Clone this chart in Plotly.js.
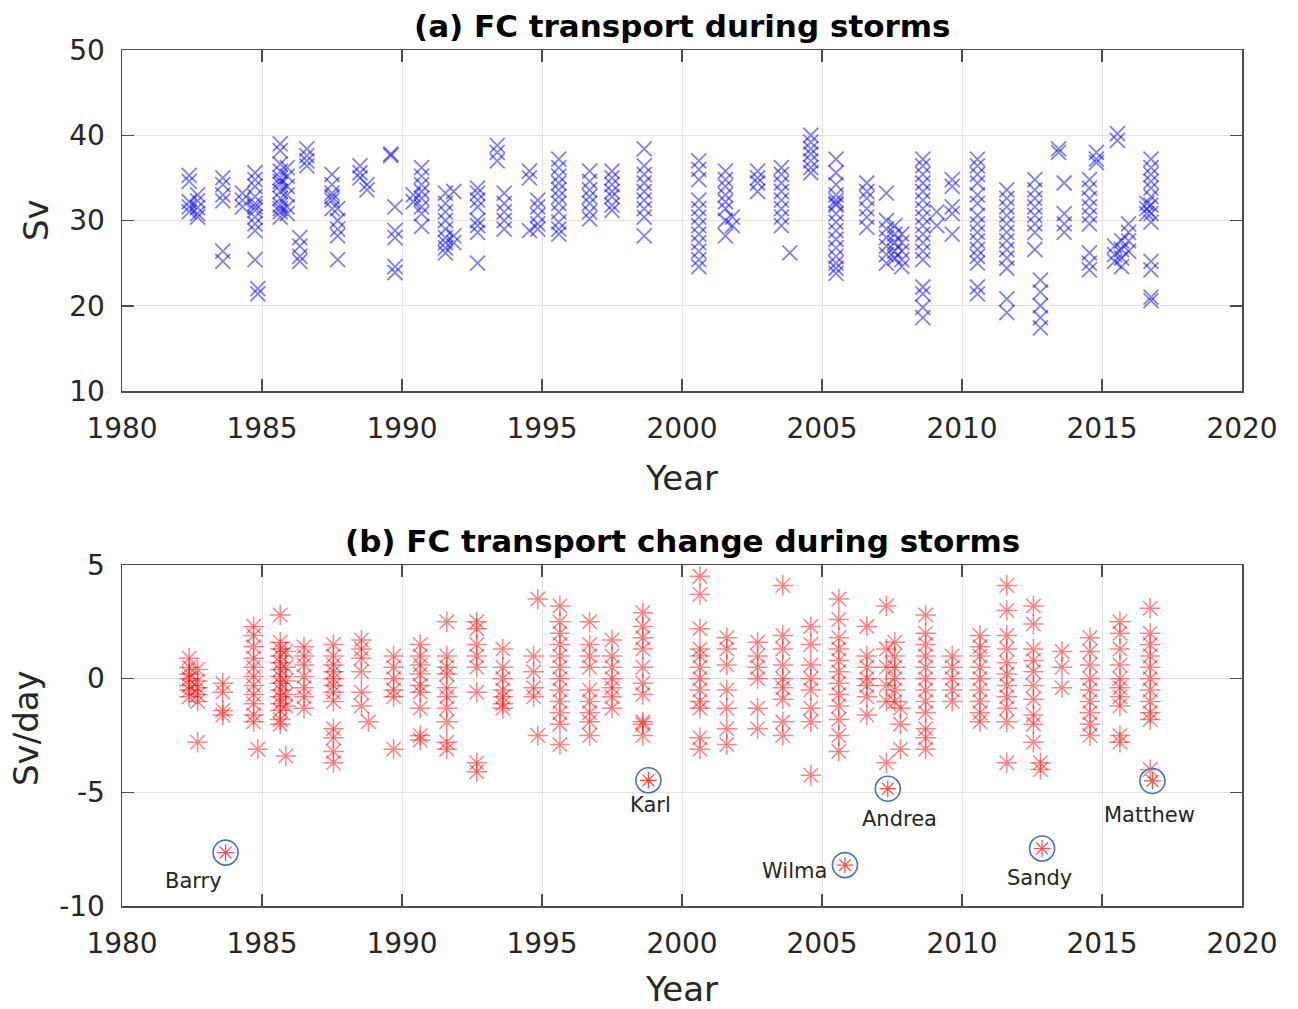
<!DOCTYPE html>
<html>
<head>
<meta charset="utf-8">
<script src="https://cdn.plot.ly/plotly-3.0.1.min.js"></script>
<style>html,body{margin:0;padding:0;background:#fff;}#chart{width:1298px;height:1009px;}</style>
</head>
<body>
<div id="chart"></div>
<script>
// ---------- Panel (a): FC transport during storms (Sv) ----------
const stormYearA = [1982.4, 1982.7, 1983.6, 1984.3, 1984.75, 1984.85, 1985.65, 1985.9, 1986.35, 1986.6,
  1987.5, 1987.7, 1988.5, 1988.75, 1989.6, 1989.75, 1990.4, 1990.7, 1991.55, 1991.85,
  1992.7, 1993.4, 1993.65, 1994.55, 1994.85, 1995.6, 1996.7, 1997.5, 1998.65, 2000.6,
  2001.55, 2001.8, 2002.7, 2003.55, 2003.85, 2004.6, 2005.5, 2006.6, 2007.3, 2007.6,
  2007.85, 2008.6, 2009.1, 2009.65, 2010.55, 2011.6, 2012.6, 2012.8, 2013.45, 2013.65,
  2014.55, 2014.8, 2015.55, 2015.45, 2015.7, 2015.95, 2016.6, 2016.75];
const transportSv = [
  [35.3, 34.6, 32.2, 31.6, 31.0],
  [33.0, 32.3, 31.5, 30.8, 30.4],
  [35.0, 34.2, 33.0, 32.3, 26.4, 25.2],
  [33.2, 32.4, 31.6],
  [35.6, 34.8, 34.0, 32.8, 32.0, 31.6, 31.2, 30.4, 29.6, 28.8, 25.4],
  [22.0, 21.4],
  [39.0, 38.2, 36.6, 35.8, 35.0, 34.6, 34.2, 33.4, 32.6, 31.8, 31.4, 31.0, 30.4],
  [36.2, 35.2, 34.0, 33.0, 31.6, 30.8],
  [28.0, 27.0, 25.8, 25.2],
  [38.4, 37.6, 37.0, 36.4],
  [35.4, 34.2, 33.2, 32.8, 32.4, 31.4],
  [31.4, 30.0, 29.0, 28.2, 25.4],
  [36.4, 35.6, 35.0],
  [34.2, 33.6],
  [37.8, 37.6],
  [31.6, 28.8, 28.0, 24.6, 23.9],
  [33.0, 32.2],
  [36.2, 35.2, 34.2, 33.4, 32.6, 31.6, 30.8, 29.3],
  [33.2, 32.0, 31.0, 30.0, 29.0, 28.0, 27.4, 26.8, 26.2],
  [33.4, 28.2, 27.4],
  [33.8, 33.2, 32.4, 31.6, 30.0, 29.4, 28.6, 25.0],
  [38.8, 38.0, 37.0],
  [33.2, 32.0, 31.0, 30.0, 29.0],
  [35.8, 35.0, 28.8],
  [32.4, 31.6, 30.6, 29.6, 29.0],
  [37.2, 36.2, 35.2, 34.4, 33.6, 32.8, 32.0, 31.0, 29.8, 29.0, 28.4],
  [35.8, 34.6, 33.6, 32.8, 32.0, 31.0, 30.2],
  [35.8, 35.0, 34.2, 33.4, 32.8, 31.8, 31.2],
  [38.4, 36.4, 35.4, 34.4, 33.4, 32.4, 31.4, 30.4, 28.2],
  [37.0, 36.0, 34.8, 32.4, 31.4, 30.4, 29.4, 28.4, 27.4, 26.4, 25.4, 24.6],
  [35.8, 34.8, 34.0, 33.0, 32.2, 31.4, 30.0, 28.2],
  [30.4, 29.4],
  [35.8, 35.0, 34.4, 33.4],
  [36.2, 35.4, 34.4, 33.4, 32.4, 31.4, 30.4, 29.4],
  [26.2],
  [40.0, 39.2, 38.4, 37.8, 37.0, 36.2, 35.6],
  [37.2, 35.6, 34.2, 33.0, 32.4, 32.0, 31.8, 30.8, 29.8, 28.8, 27.8, 26.8, 25.8, 25.0, 24.4, 23.8],
  [34.4, 33.4, 32.6, 31.4, 30.4, 29.2],
  [33.2, 30.0, 29.0, 28.0, 27.0, 26.0, 25.0],
  [29.4, 28.4, 27.4, 26.4, 25.6],
  [28.4, 27.4, 26.4, 25.4, 24.6],
  [37.2, 36.4, 35.4, 34.4, 33.4, 32.4, 31.4, 30.4, 29.4, 28.4, 27.4, 26.4, 25.4, 22.2, 21.4, 19.8, 18.6],
  [31.0, 29.4],
  [34.8, 34.0, 31.6, 30.8, 28.4],
  [37.2, 36.4, 35.4, 34.4, 33.0, 32.0, 30.6, 29.6, 28.6, 27.6, 26.6, 25.8, 25.0, 22.2, 21.4],
  [33.6, 32.6, 31.6, 30.6, 29.6, 28.6, 27.6, 26.6, 25.6, 24.4, 20.8, 19.2],
  [34.8, 33.6, 32.6, 31.6, 30.6, 29.6, 28.6, 26.6],
  [23.0, 21.6, 20.0, 18.6, 17.4],
  [38.4, 38.0],
  [34.4, 30.8, 29.6, 28.6],
  [34.8, 33.8, 32.6, 31.6, 30.6, 29.6, 26.2, 25.0, 24.2],
  [38.0, 37.2, 36.8],
  [40.2, 39.4],
  [27.0, 26.0, 25.2],
  [27.6, 26.6, 25.6, 24.6],
  [29.6, 28.6, 27.6, 26.4],
  [32.0, 31.4, 30.8],
  [37.2, 36.2, 35.4, 34.6, 33.8, 32.8, 31.8, 30.8, 29.8, 25.2, 24.2, 21.0, 20.6]
];

// ---------- Panel (b): FC transport change during storms (Sv/day) ----------
const stormYearB = [1982.4, 1982.7, 1983.6, 1984.7, 1984.85, 1985.65, 1985.85, 1986.5, 1987.55, 1988.55,
  1988.8, 1989.7, 1990.65, 1991.6, 1992.67, 1993.6, 1994.7, 1994.85, 1995.64, 1996.7,
  1997.5, 1998.6, 2000.64, 2001.6, 2002.7, 2003.6, 2004.6, 2005.6, 2006.6, 2007.3,
  2007.6, 2007.8, 2008.7, 2009.65, 2010.64, 2011.6, 2012.55, 2012.8, 2013.57, 2014.57,
  2015.64, 2016.72];
const changeSvDay = [
  [0.9, 0.5, 0.2, 0.0, -0.3, -0.5, -0.8],
  [0.4, -0.1, -0.4, -0.7, -1.0, -2.8],
  [-0.2, -0.6, -1.4, -1.6],
  [2.3, 1.9, 1.4, 0.9, 0.5, 0.1, -0.3, -0.7, -1.1, -1.6, -1.9],
  [-3.1],
  [2.8, 1.6, 1.3, 1.0, 0.7, 0.4, 0.1, -0.2, -0.5, -0.8, -1.1, -1.4, -1.8, -2.0],
  [1.2, 0.5, -0.1, -0.7, -1.2, -3.4],
  [1.4, 1.0, 0.6, 0.1, -0.4, -0.8, -1.3],
  [1.5, 1.0, 0.6, 0.3, 0.0, -0.3, -0.6, -1.0, -2.2, -2.6, -3.2, -3.7],
  [1.7, 1.3, 0.9, 0.3, -0.6, -1.2],
  [-1.9],
  [1.0, 0.5, 0.0, -0.5, -0.8, -3.1],
  [1.5, 1.0, 0.6, 0.2, -0.3, -0.6, -1.3, -2.5, -2.7],
  [2.5, 1.0, 0.5, 0.2, -0.4, -0.8, -1.3, -1.9, -2.8, -3.1],
  [2.5, 2.2, 1.5, 1.0, 0.5, -0.6, -3.7, -4.1],
  [1.3, 0.5, 0.0, -0.5, -0.8, -1.1, -1.3],
  [1.0, 0.3, -0.4, -0.8],
  [3.5, -2.5],
  [3.2, 2.5, 2.0, 1.5, 1.0, 0.5, 0.0, -0.5, -1.0, -1.5, -2.0, -2.9],
  [2.5, 1.5, 1.0, 0.5, -0.5, -1.0, -1.5, -1.9, -2.5],
  [1.7, 1.0, 0.5, 0.0, -0.4, -0.8, -1.3],
  [2.9, 2.3, 1.8, 1.3, 0.5, -0.2, -0.7, -1.9, -2.0, -2.5],
  [4.5, 3.7, 2.2, 1.3, 1.0, 0.5, 0.0, -0.5, -1.0, -1.3, -2.6, -3.1],
  [1.8, 1.3, 0.6, -0.5, -1.3, -2.2, -2.9],
  [1.6, 1.0, 0.5, 0.0, -1.3, -2.2],
  [4.1, 1.9, 1.3, 0.6, 0.0, -0.4, -0.9, -1.9, -2.5],
  [2.3, 1.5, 0.6, 0.0, -0.5, -1.3, -1.9, -4.25],
  [3.5, 2.6, 1.8, 1.3, 0.8, 0.3, -0.2, -0.7, -1.2, -1.8, -2.5, -3.2],
  [2.3, 1.0, 0.5, 0.0, -0.3, -0.8, -1.6],
  [3.2, 1.3, 0.5, -0.3, -1.0, -3.7],
  [1.6, 1.0, 0.5, 0.0, -0.5, -1.0],
  [-1.3, -2.0, -3.1],
  [2.8, 2.0, 1.5, 1.0, 0.5, 0.0, -0.5, -1.0, -1.5, -2.2, -2.6, -3.1],
  [1.0, 0.5, 0.0, -0.5, -1.0],
  [1.9, 1.4, 1.0, 0.5, 0.0, -0.5, -1.0, -1.5, -1.9],
  [4.1, 3.0, 1.9, 1.3, 0.7, 0.2, -0.3, -0.8, -1.3, -1.9, -3.7],
  [3.2, 2.4, 1.3, 0.8, 0.3, -0.3, -0.9, -1.6, -2.0, -2.8],
  [-3.7, -4.0],
  [1.2, 0.5, -0.4],
  [1.8, 1.2, 0.6, 0.0, -0.5, -1.0, -1.5, -2.0, -2.5],
  [2.5, 2.0, 1.3, 0.6, 0.0, -0.4, -0.8, -1.2, -2.5, -2.8],
  [3.1, 2.0, 1.5, 1.0, 0.5, 0.0, -0.5, -1.0, -1.5, -1.8, -4.0]
];

// ---------- Named storms with the largest drops ----------
const namedStorms = ['Barry', 'Karl', 'Wilma', 'Andrea', 'Sandy', 'Matthew'];
const namedYear = [1983.7, 1998.8, 2005.82, 2007.35, 2012.86, 2016.8];
const namedRate = [-7.65, -4.47, -8.2, -4.84, -7.47, -4.5];

// ---------- Tick labels ----------
const yearTicks = [1980, 1985, 1990, 1995, 2000, 2005, 2010, 2015, 2020];
const svTicks = [10, 20, 30, 40, 50];
const rateTicks = [-10, -5, 0, 5];

function flatten(years, lists) {
  const x = [], y = [];
  years.forEach((yr, i) => lists[i].forEach(v => { x.push(yr); y.push(v); }));
  return {x, y};
}
const pa = flatten(stormYearA, transportSv);
const pb = flatten(stormYearB, changeSvDay);

const traces = [
  {x: pa.x, y: pa.y, xaxis: 'x', yaxis: 'y', type: 'scatter', mode: 'markers', hoverinfo: 'x+y',
   marker: {symbol: 'x-thin-open', size: 15, opacity: 0.5, color: '#0000ff', line: {color: '#0000ff', width: 1.8}}},
  {x: pb.x, y: pb.y, xaxis: 'x2', yaxis: 'y2', type: 'scatter', mode: 'markers', hoverinfo: 'x+y',
   marker: {symbol: 'asterisk-open', size: 17, opacity: 0.48, color: '#ff0000', line: {color: '#ff0000', width: 1.5}}},
  {x: namedYear, y: namedRate, xaxis: 'x2', yaxis: 'y2', type: 'scatter', mode: 'markers', text: namedStorms,
   marker: {symbol: 'asterisk-open', size: 14, opacity: 0.7, color: '#ff0000', line: {color: '#ff0000', width: 1.2}}},
  {x: namedYear, y: namedRate, xaxis: 'x2', yaxis: 'y2', type: 'scatter', mode: 'markers', text: namedStorms,
   marker: {symbol: 'circle-open', size: 25, color: '#4472c4', line: {color: '#4472c4', width: 1.6}}}
];

const FONT = 'DejaVu Sans, Arial, sans-serif';
const axisCommon = {
  ticks: 'inside', ticklen: 12, tickwidth: 1.5, tickcolor: '#4d4d4d',
  showline: true, linecolor: '#4d4d4d', linewidth: 1.5, mirror: 'ticks',
  showgrid: true, gridcolor: '#e3e3e3', gridwidth: 1, zeroline: false,
  tickfont: {family: FONT, size: 28, color: '#262626'}
};
const W = 1298, H = 1009;
const xDom = [122 / W, 1242 / W];

const annotations = [
  {text: '<b>(a) FC transport during storms</b>', x: 682 / W, y: 1 - 26 / H, xref: 'paper', yref: 'paper',
   showarrow: false, xanchor: 'center', yanchor: 'middle', font: {family: FONT, size: 31, color: '#000'}},
  {text: '<b>(b) FC transport change during storms</b>', x: 682 / W, y: 1 - 541 / H, xref: 'paper', yref: 'paper',
   showarrow: false, xanchor: 'center', yanchor: 'middle', font: {family: FONT, size: 31, color: '#000'}},
  {text: 'Year', x: 681 / W, y: 1 - 478 / H, xref: 'paper', yref: 'paper', showarrow: false,
   xanchor: 'center', yanchor: 'middle', font: {family: FONT, size: 34, color: '#262626'}},
  {text: 'Year', x: 681 / W, y: 1 - 989 / H, xref: 'paper', yref: 'paper', showarrow: false, borderpad: 0,
   xanchor: 'center', yanchor: 'middle', font: {family: FONT, size: 34, color: '#262626'}},
  {text: 'Sv', x: 36 / W, y: 1 - 220 / H, xref: 'paper', yref: 'paper', showarrow: false, textangle: -90,
   xanchor: 'center', yanchor: 'middle', font: {family: FONT, size: 34, color: '#262626'}},
  {text: 'Sv/day', x: 26 / W, y: 1 - 728 / H, xref: 'paper', yref: 'paper', showarrow: false, textangle: -90,
   xanchor: 'center', yanchor: 'middle', font: {family: FONT, size: 34, color: '#262626'}}
];
const labelShift = [[-32, -28], [2, -25], [-50, -6], [12, -30], [-3, -30], [-3, -34]];
namedStorms.forEach((nm, i) => {
  annotations.push({text: nm, x: namedYear[i], y: namedRate[i], xref: 'x2', yref: 'y2', showarrow: false,
    xanchor: 'center', yanchor: 'middle', xshift: labelShift[i][0], yshift: labelShift[i][1],
    font: {family: FONT, size: 21, color: '#262626'}});
});

const layout = {
  width: W, height: H, margin: {l: 0, r: 0, t: 0, b: 0},
  paper_bgcolor: '#ffffff', plot_bgcolor: '#ffffff', showlegend: false,
  xaxis: Object.assign({}, axisCommon, {domain: xDom, range: [1980, 2020], anchor: 'y',
    tickvals: yearTicks, ticktext: yearTicks.map(String), ticklabelstandoff: 12}),
  yaxis: Object.assign({}, axisCommon, {domain: [1 - 391 / H, 1 - 50 / H], range: [10, 50], anchor: 'x',
    tickvals: svTicks, ticktext: svTicks.map(String), ticklabelstandoff: 10}),
  xaxis2: Object.assign({}, axisCommon, {domain: xDom, range: [1980, 2020], anchor: 'y2',
    tickvals: yearTicks, ticktext: yearTicks.map(String), ticklabelstandoff: 12}),
  yaxis2: Object.assign({}, axisCommon, {domain: [1 - 906 / H, 1 - 565 / H], range: [-10, 5], anchor: 'x2',
    tickvals: rateTicks, ticktext: rateTicks.map(String), ticklabelstandoff: 10}),
  annotations: annotations
};

Plotly.newPlot('chart', traces, layout, {displayModeBar: false, staticPlot: true});
</script>
</body>
</html>
